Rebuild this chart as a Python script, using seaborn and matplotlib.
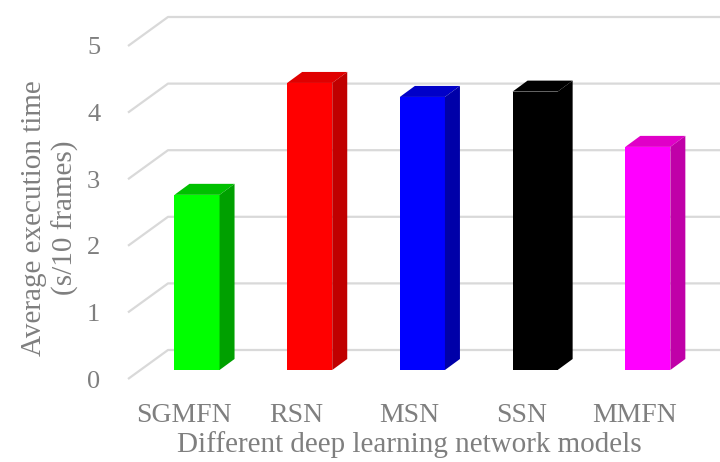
import matplotlib
matplotlib.use("Agg")
import matplotlib.pyplot as plt
from matplotlib.transforms import ScaledTranslation
from matplotlib.patches import Polygon
import seaborn as sns

# Data
models = ["SGMFN", "RSN", "MSN", "SSN", "MMFN"]
exec_times = [2.63, 4.31, 4.10, 4.18, 3.35]
front_colors = ["#00ff00", "#ff0000", "#0000ff", "#000000", "#ff00ff"]
top_colors = ["#00c000", "#e00000", "#0000c8", "#000000", "#e000c8"]
side_colors = ["#00a000", "#c00000", "#0000a8", "#000000", "#c000a8"]
y_ticks = [0, 1, 2, 3, 4, 5]
x_title = "Different deep learning network models"
y_title = "Average execution time\n(s/10 frames)"

sns.set_theme(style="white")
plt.rcParams["font.family"] = ["Liberation Serif", "DejaVu Serif"]
TEXT = "#7f7f7f"
GRID = "#d9d9d9"

W, H, DPI = 720, 462, 100
fig = plt.figure(figsize=(W / DPI, H / DPI), dpi=DPI)

# axes box in pixels (left, top, right, bottom of the front plane)
L, T, R, B = 128, 5, 720, 379
ax = fig.add_axes([L / W, (H - B) / H, (R - L) / W, (B - T) / H])

sns.barplot(x=models, y=exec_times, hue=models, palette=front_colors,
            width=0.4, saturation=1, legend=False, ax=ax, zorder=3,
            linewidth=0)

# pixel scale of the category / value axes
cat_step = 112.7
val_step = 66.6
first_center = 197
zero_py = 370
ax.set_xlim((L - first_center) / cat_step, (R - first_center) / cat_step)
ax.set_ylim((zero_py - B) / val_step, (zero_py - T) / val_step)

for s in ax.spines.values():
    s.set_visible(False)
ax.tick_params(length=0)
ax.grid(False)


def shift(x, y, dx_px, dy_px):
    """Move a data point by an offset given in pixels (dy up)."""
    px, py = ax.transData.transform((x, y))
    return ax.transData.inverted().transform((px + dx_px, py + dy_px))


# depth of the floor / back wall and of the bar blocks (pixels)
front_dy = -(B - zero_py)          # front edge sits 9 px below the bar face
wall_dx, wall_dy = 40, zero_py - 350
bar_dx, bar_dy = 15, 11

ax.set_yticks(y_ticks)
x_left, x_right = ax.get_xlim()
for v in ax.get_yticks():
    p_front = shift(x_left, v, 0, front_dy)
    p_back = shift(x_left, v, wall_dx, wall_dy)
    p_end = shift(x_right, v, 0, wall_dy)
    ax.plot([p_front[0], p_back[0], p_end[0]], [p_front[1], p_back[1], p_end[1]],
            color=GRID, lw=1.6, zorder=1, clip_on=False, solid_capstyle="butt")

# top and side faces of each block
for patch, tc, sc in zip(ax.patches, top_colors, side_colors):
    x0, y0 = patch.get_x(), patch.get_y()
    w, h = patch.get_width(), patch.get_height()
    fl, fr = (x0, y0 + h), (x0 + w, y0 + h)
    top = [fl, fr, shift(*fr, bar_dx, bar_dy), shift(*fl, bar_dx, bar_dy)]
    br = (x0 + w, y0)
    side = [br, fr, shift(*fr, bar_dx, bar_dy), shift(*br, bar_dx, bar_dy)]
    ax.add_patch(Polygon(top, closed=True, facecolor=tc, edgecolor="none", zorder=3))
    ax.add_patch(Polygon(side, closed=True, facecolor=sc, edgecolor="none", zorder=3))

# tick labels
ax.set_yticklabels([str(t) for t in y_ticks])
ax.tick_params(axis="y", labelsize=19, labelcolor=TEXT, pad=20)
ax.tick_params(axis="x", labelsize=20, labelcolor=TEXT, pad=17)
for lbl in ax.get_yticklabels():
    lbl.set_transform(lbl.get_transform() + ScaledTranslation(0, front_dy / DPI, fig.dpi_scale_trans))
for lbl in ax.get_xticklabels():
    lbl.set_transform(lbl.get_transform() + ScaledTranslation(-13 / DPI, 0, fig.dpi_scale_trans))

ax.set_xlabel(x_title, fontsize=21, color=TEXT)
ax.xaxis.set_label_coords((409 - L) / (R - L), -(445 - B) / (B - T))
ax.set_ylabel(y_title, fontsize=21, color=TEXT, linespacing=1.2)
ax.yaxis.set_label_coords(-(L - 50) / (R - L), (B - 218) / (B - T))
ax.xaxis.label.set_va("center")
ax.yaxis.label.set_va("center")

fig.savefig("out.png", dpi=DPI)
